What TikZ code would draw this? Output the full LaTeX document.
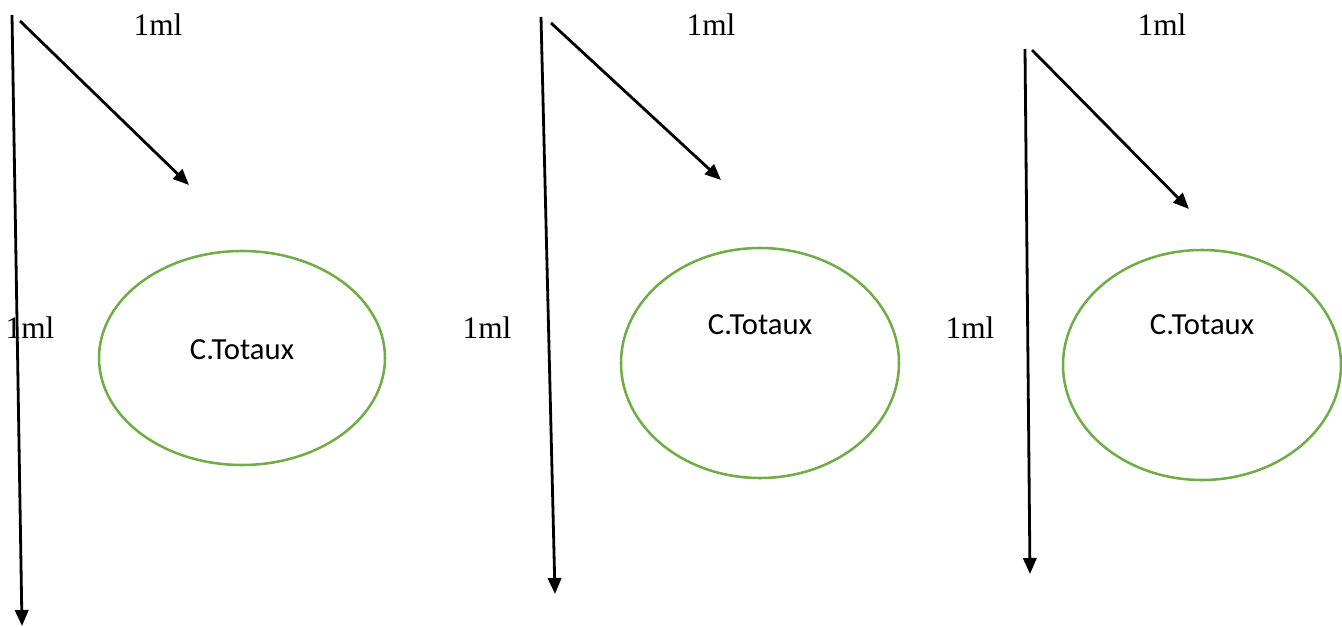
\documentclass[tikz,border=0pt]{standalone}
\usepackage{fontspec}
\setmainfont{Liberation Serif}
\newfontfamily\calib{Carlito}
\usetikzlibrary{arrows.meta}
\definecolor{grn}{RGB}{112,173,71}
\tikzset{
  conn/.style={line width=2.1pt, -{Triangle[length=12pt,width=10pt]}},
  bubble/.style={draw=grn, line width=1.9pt, fill=none},
  ml/.style={font=\fontsize{23.5}{27}\selectfont, inner sep=0pt},
  lab/.style={font=\calib\fontsize{23}{27}\selectfont, inner sep=0pt}
}
\begin{document}
\begin{tikzpicture}[x=0.75pt,y=-0.75pt]
\useasboundingbox (0,0) rectangle (1342,627);
% group 1
\coordinate (v1s) at (12,15);
\coordinate (v1e) at (22,626);
\coordinate (d1s) at (20,21);
\coordinate (d1e) at (189,185);
\draw[conn] (v1s) -- (v1e);
\draw[conn] (d1s) -- (d1e);
\node[ml] (t1a) at (158,25) {1ml};
\node[ml] (t1b) at (30,328) {1ml};
\draw[bubble] (242,358) ellipse [x radius=143, y radius=107];
\node[lab] (c1) at (242,350) {C.Totaux};
% group 2
\coordinate (v2s) at (541,17);
\coordinate (v2e) at (555,594);
\coordinate (d2s) at (551,23);
\coordinate (d2e) at (721,180);
\draw[conn] (v2s) -- (v2e);
\draw[conn] (d2s) -- (d2e);
\node[ml] (t2a) at (711,25) {1ml};
\node[ml] (t2b) at (487,328) {1ml};
\draw[bubble] (760,363) ellipse [x radius=139, y radius=115];
\node[lab] (c2) at (760,325) {C.Totaux};
% group 3
\coordinate (v3s) at (1025,49);
\coordinate (v3e) at (1030,574);
\coordinate (d3s) at (1032,50);
\coordinate (d3e) at (1189,209);
\draw[conn] (v3s) -- (v3e);
\draw[conn] (d3s) -- (d3e);
\node[ml] (t3a) at (1162,25) {1ml};
\node[ml] (t3b) at (970,328) {1ml};
\draw[bubble] (1202,365) ellipse [x radius=139, y radius=115];
\node[lab] (c3) at (1202,325) {C.Totaux};
\end{tikzpicture}
\end{document}
